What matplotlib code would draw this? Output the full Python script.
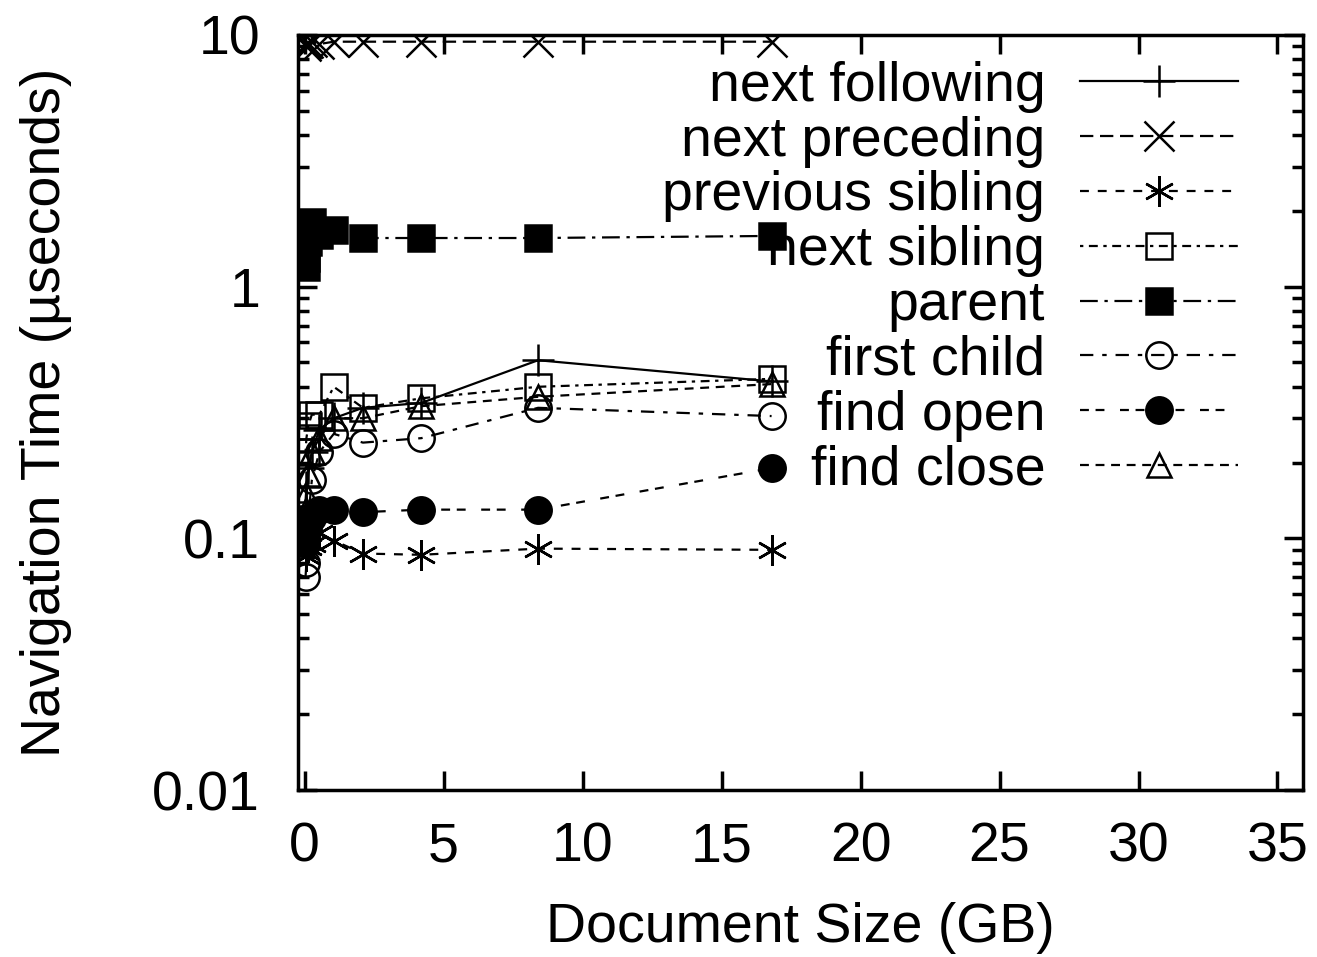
import numpy as np
import matplotlib
matplotlib.use('Agg')
import matplotlib.pyplot as plt
from matplotlib.ticker import LogLocator, NullFormatter, FixedLocator

plt.rcParams['font.family'] = ['Liberation Sans', 'DejaVu Sans']

# document sizes (GB)
sizes = [0.033, 0.066, 0.13, 0.26, 0.53, 1.05, 2.1, 4.2, 8.4, 16.8]

# navigation time (useconds)
next_following = [0.14, 0.16, 0.19, 0.22, 0.27, 0.30, 0.33, 0.345, 0.51, 0.42]
next_preceding = [9.0, 9.2, 9.3, 9.4, 9.2, 9.4, 9.4, 9.4, 9.4, 9.4]
previous_sibling = [0.085, 0.088, 0.092, 0.095, 0.105, 0.098, 0.087, 0.086, 0.091, 0.090]
next_sibling = [0.22, 0.25, 0.28, 0.31, 0.31, 0.40, 0.33, 0.36, 0.40, 0.43]
parent = [1.2, 1.3, 1.5, 1.8, 1.6, 1.68, 1.56, 1.56, 1.56, 1.59]
first_child = [0.07, 0.08, 0.12, 0.17, 0.22, 0.26, 0.24, 0.25, 0.33, 0.306]
find_open = [0.095, 0.10, 0.11, 0.12, 0.13, 0.13, 0.127, 0.13, 0.13, 0.19]
find_close = [0.13, 0.15, 0.18, 0.22, 0.25, 0.30, 0.30, 0.335, 0.365, 0.41]

# name, values, marker, face, size, dashes
series = [
    ('next following', next_following, '+', 'k', 23, None),
    ('next preceding', next_preceding, 'x', 'k', 21, (6, 3)),
    ('previous sibling', previous_sibling, (6, 2, 0), 'k', 22, (4, 4)),
    ('next sibling', next_sibling, 's', 'none', 19, (1.5, 2.5, 4, 2.5)),
    ('parent', parent, 's', 'k', 19, (8, 3, 1.5, 3)),
    ('first child', first_child, 'o', 'none', 19, (6, 4, 2, 4)),
    ('find open', find_open, 'o', 'k', 19, (4, 3, 4, 7)),
    ('find close', find_close, '^', 'none', 17, (4, 3)),
]

fig = plt.figure(figsize=(13.17, 9.57), dpi=100)
ax = fig.add_axes([0.226, 0.1745, 0.763, 0.789])

for name, vals, mk, fc, ms, dash in series:
    line, = ax.plot(sizes, vals, color='k', lw=1.6, marker=mk, markersize=ms,
                    markerfacecolor=fc, markeredgecolor='k', markeredgewidth=1.8,
                    label=name)
    if dash is not None:
        line.set_dashes(dash)

ax.set_yscale('log')
ax.set_xlim(-0.25, 35.9)
ax.set_ylim(0.01, 10)
ax.xaxis.set_major_locator(FixedLocator([0, 5, 10, 15, 20, 25, 30, 35]))
ax.yaxis.set_major_locator(FixedLocator([0.01, 0.1, 1, 10]))
ax.set_yticklabels(['0.01', '0.1', '1', '10'])
ax.yaxis.set_minor_locator(LogLocator(base=10, subs=np.arange(2, 10)))
ax.yaxis.set_minor_formatter(NullFormatter())

ax.tick_params(which='both', direction='in', top=True, right=True, width=2.5,
               labelsize=40)
ax.tick_params(which='major', length=14)
ax.tick_params(which='minor', length=8)
ax.tick_params(axis='x', pad=23)
ax.tick_params(axis='y', pad=27)
for s in ax.spines.values():
    s.set_linewidth(2.5)

ax.set_xlabel('Document Size (GB)', fontsize=40, labelpad=20)
ax.set_ylabel('Navigation Time (\u00b5seconds)', fontsize=40, labelpad=58)

leg = ax.legend(loc='upper right', bbox_to_anchor=(0.958, 0.995), frameon=False,
                markerfirst=False, numpoints=1, fontsize=40, handlelength=2.85,
                handletextpad=0.62, labelspacing=0.05, borderaxespad=0)

fig.savefig('out.png', dpi=100)
